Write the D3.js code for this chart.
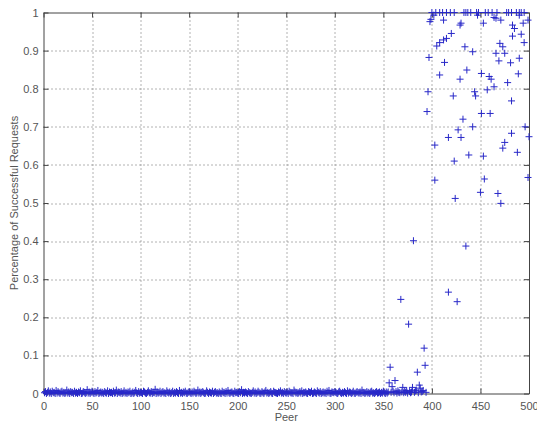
<!DOCTYPE html>
<html>
<head>
<meta charset="utf-8">
<script src="https://cdn.jsdelivr.net/npm/d3@7"></script>
<style>
  body { margin: 0; background: #fff; }
  svg { display: block; font-family: "Liberation Sans", Arial, sans-serif; }
  .tick text { fill: #555; font-size: 11px; }
  .label { fill: #555; font-size: 11px; }
</style>
</head>
<body>
<div id="chart"></div>
<script>
// peers 1..354: success rate in per-mille (all close to zero)
const lowPeerRates = [
  2,5,0,3,7,1,4,0,6,2,3,0,8,1,5,2,0,4,6,1,3,0,2,9,1,4,0,5,2,3,
  0,6,1,3,0,4,2,7,0,1,5,3,0,2,10,1,4,0,3,6,2,0,5,1,3,8,0,2,4,1,
  3,0,5,2,1,7,0,4,2,3,0,6,1,2,9,0,4,3,1,5,0,2,7,1,3,0,4,2,6,0,
  1,4,0,3,8,2,0,5,1,3,2,0,6,4,1,0,3,7,2,1,5,0,3,2,11,0,4,1,2,6,
  0,3,5,1,2,0,7,3,1,4,0,2,6,0,3,1,5,2,0,8,1,3,0,4,2,6,1,0,3,5,
  2,0,4,1,6,3,0,2,9,1,4,0,3,5,2,0,1,7,3,0,4,2,1,6,0,3,5,1,2,0,
  4,1,0,6,2,3,0,5,1,8,2,0,3,4,1,0,6,2,3,1,0,5,2,10,0,3,1,4,2,0,
  5,2,1,0,3,7,1,4,0,2,6,3,0,1,5,2,0,4,8,1,3,0,2,5,1,0,6,3,2,1,
  0,4,2,7,1,3,0,5,2,1,4,0,6,3,1,2,0,9,4,1,3,0,2,5,1,7,0,3,2,4,
  1,0,5,3,2,6,0,1,4,2,0,7,3,1,5,0,2,4,1,3,0,6,2,8,1,0,4,3,2,5,
  3,1,0,4,6,2,0,3,1,5,2,0,7,1,4,3,0,2,6,1,0,3,5,2,1,4,0,9,2,3,
  0,2,5,1,3,0,4,6,1,2,0,3,5,1,2,4,0,3,1,6,2,0,4,1
];

// peers 355..500
const highPeers = [
  355,356,357,358,359,360,361,362,363,364,365,366,367,368,369,370,371,372,373,374,
  375,376,377,378,379,380,381,382,383,384,385,386,387,388,389,390,391,392,393,394,
  395,396,397,398,399,
  400,404,408,411,415,419,423,433,435,437,440,446,448,455,458,462,467,477,479,482,
  487,490,492,495,
  402,412,429,430,447,453,464,466,471,483,485,490,494,499,
  483,492,495,420,415,412,408,405,434,442,470,473,466,475,469,481,490,413,
  408,429,436,451,459,461,464,478,489,422,444,445,457,482,
  451,460,432,427,417,430,442,496,500,482,403,475,473,488,438,453,423,
  403,454,499,450,468,424,471,435,417,426
];
const highRates = [
  0.004,0.028,0.069,0.003,0.018,0.006,0.002,0.034,0.005,0.001,0.007,0.003,0.002,0.247,0.004,0.016,0.002,0.006,0.003,0.008,
  0.001,0.182,0.005,0.002,0.004,0.016,0.401,0.003,0.007,0.009,0.056,0.002,0.022,0.014,0.004,0.005,0.008,0.119,0.074,0.003,
  0.740,0.792,0.882,0.976,0.982,
  1,1,1,1,1,1,1,1,1,1,1,1,1,1,1,1,1,1,1,1,
  1,1,1,1,
  0.993,0.980,0.967,0.972,0.993,0.972,0.987,0.985,0.980,0.967,0.958,0.993,0.972,0.980,
  0.938,0.943,0.921,0.945,0.932,0.928,0.921,0.912,0.910,0.897,0.919,0.910,0.893,0.893,0.873,0.868,0.880,0.869,
  0.836,0.825,0.849,0.840,0.832,0.825,0.805,0.816,0.839,0.781,0.792,0.781,0.797,0.768,
  0.735,0.735,0.720,0.692,0.672,0.672,0.700,0.700,0.674,0.683,0.652,0.659,0.644,0.633,0.626,0.623,0.610,
  0.560,0.563,0.567,0.528,0.525,0.512,0.499,0.387,0.266,0.241
];

const xTicks = [0, 50, 100, 150, 200, 250, 300, 350, 400, 450, 500];
const yTicks = [0, 0.1, 0.2, 0.3, 0.4, 0.5, 0.6, 0.7, 0.8, 0.9, 1];

const points = lowPeerRates.map((r, i) => ({peer: i + 1, rate: r / 1000}))
  .concat(highPeers.map((p, i) => ({peer: p, rate: highRates[i]})));

const width = 537, height = 426;
const margin = {left: 43.5, right: 8, top: 12.5, bottom: 32.5};
const w = width - margin.left - margin.right;
const h = height - margin.top - margin.bottom;

const svg = d3.select('#chart').append('svg')
  .attr('width', width)
  .attr('height', height);
const g = svg.append('g')
  .attr('transform', `translate(${margin.left}, ${margin.top})`);

const x = d3.scaleLinear().domain([0, 500]).range([0, w]);
const y = d3.scaleLinear().domain([0, 1]).range([h, 0]);

// grid
g.append('g').selectAll('line')
  .data(xTicks.slice(1, -1))
  .enter().append('line')
  .attr('x1', d => Math.round(x(d)) + 0.5).attr('x2', d => Math.round(x(d)) + 0.5)
  .attr('y1', 0).attr('y2', h)
  .attr('stroke', '#666').attr('stroke-dasharray', '1,3');
g.append('g').selectAll('line')
  .data(yTicks.slice(1, -1))
  .enter().append('line')
  .attr('y1', d => Math.round(y(d)) + 0.5).attr('y2', d => Math.round(y(d)) + 0.5)
  .attr('x1', 0).attr('x2', w)
  .attr('stroke', '#666').attr('stroke-dasharray', '1,3');

// axes (ticks inside, box on)
const fmt = d => (d === 0 || d === 1) ? String(d) : d3.format('.1f')(d);
const axisStyle = sel => {
  sel.select('.domain').attr('stroke', '#444');
  sel.selectAll('.tick line').attr('stroke', '#444');
};
g.append('g')
  .attr('transform', `translate(0, ${h})`)
  .call(d3.axisBottom(x).tickValues(xTicks).tickSizeInner(-5).tickSizeOuter(0).tickPadding(9))
  .call(axisStyle);
g.append('g')
  .call(d3.axisLeft(y).tickValues(yTicks).tickFormat(fmt).tickSizeInner(-5).tickSizeOuter(0).tickPadding(5))
  .call(axisStyle);
g.append('g')
  .call(d3.axisTop(x).tickValues(xTicks).tickSizeInner(-5).tickSizeOuter(0).tickFormat(''))
  .call(axisStyle);
g.append('g')
  .attr('transform', `translate(${w}, 0)`)
  .call(d3.axisRight(y).tickValues(yTicks).tickSizeInner(-5).tickSizeOuter(0).tickFormat(''))
  .call(axisStyle);

// markers
const plus = d3.symbol().type(d3.symbolCross);
const m = 3.5;
g.append('g').selectAll('path')
  .data(points)
  .enter().append('path')
  .attr('d', d => {
    const cx = x(d.peer), cy = y(d.rate);
    return `M${cx - m},${cy}H${cx + m}M${cx},${cy - m}V${cy + m}`;
  })
  .attr('fill', 'none')
  .attr('stroke', '#2828c8')
  .attr('stroke-width', 1);

// axis labels
svg.append('text')
  .attr('class', 'label')
  .attr('x', margin.left + w / 2)
  .attr('y', 421)
  .style('text-anchor', 'middle')
  .text('Peer');
svg.append('text')
  .attr('class', 'label')
  .attr('transform', `translate(18, ${margin.top + h / 2}) rotate(-90)`)
  .style('text-anchor', 'middle')
  .text('Percentage of Successful Requests');
</script>
</body>
</html>
